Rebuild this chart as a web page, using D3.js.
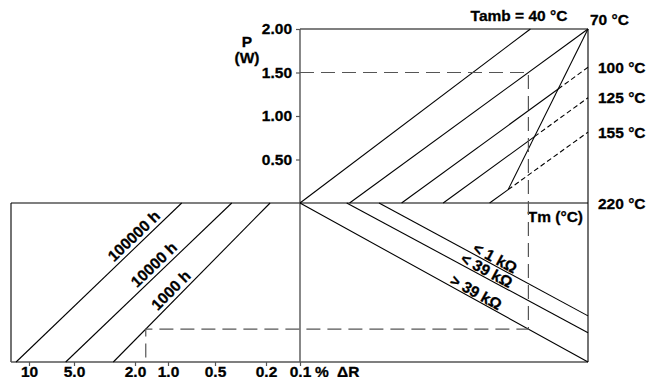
<!DOCTYPE html>
<html>
<head>
<script src="https://d3js.org/d3.v7.min.js"></script>
<style>
  body { margin: 0; background: #fff; }
  text { font-family: "Liberation Sans", Arial, sans-serif; font-weight: bold; font-size: 15.5px; fill: #000; stroke: #000; stroke-width: 0.3px; }
</style>
</head>
<body>
<div id="target"></div>
<script>
// power axis (W)
var powerTicks = [0.5, 1.0, 1.5, 2.0];
// ambient temperature lines: Tm at P = 0, and end point (Tm, P) of each line
var tambNames = ["Tamb = 40 °C", "70 °C", "100 °C", "125 °C", "155 °C"];
var tambStart = [40, 71, 103.5, 129.5, 158.5];
var tambEndTm = [184, 220, 220, 220, 220];
var tambEndP = [2.0, 2.0, 1.56, 1.21, 0.815];
// max film temperature limit line (Tm, P)
var limitTm = [220, 170];
var limitP = [2.0, 0.15];
// resistance lines, lower right part (Tm at start, relative level at Tm = 220)
var resNames = ["< 1 kΩ", "< 39 kΩ", "> 39 kΩ"];
var resStart = [89.4, 69.2, 40];
var resEnd = [0.71, 0.816, 1.0];
// load life lines, lower left part (ΔR % at top and at bottom)
var lifeNames = ["100000 h", "10000 h", "1000 h"];
var lifeTop = [0.817, 0.37, 0.184];
var lifeBottom = [12.2, 5.68, 2.77];
// drift axis
var driftTicks = [10, 5, 2, 1, 0.5, 0.2, 0.1];
var driftLabels = ["10", "5.0", "2.0", "1.0", "0.5", "0.2", "0.1"];
// worked example: 1.5 W at 70 °C, > 39 kOhm, 1000 h
var exampleP = 1.5, exampleTamb = 1, exampleRes = 2, exampleLife = 2;

var xLeft = 11, xMid = 300, xRight = 588, yTop = 29, yCenter = 203, yBottom = 362;

var svg = d3.select('#target').append('svg')
    .attr('width', 660)
    .attr('height', 377);

var y = d3.scaleLinear().domain([0, 2]).range([yCenter, yTop]);
var x = d3.scaleLinear().domain([40, 220]).range([xMid, xRight]);
var v = d3.scaleLinear().domain([0, 1]).range([yCenter, yBottom]);
var xd = d3.scaleLog().domain(driftTicks).range([29, 74, 135, 168, 215, 266, 300]);

function seg(a, b) {
    return svg.append('line')
        .attr('x1', a[0]).attr('y1', a[1])
        .attr('x2', b[0]).attr('y2', b[1])
        .attr('stroke', '#000')
        .attr('stroke-width', 1.1);
}

// where line a-b meets line c-d; t is along a-b
function cross(a, b, c, d) {
    var r = [b[0] - a[0], b[1] - a[1]], s = [d[0] - c[0], d[1] - c[1]];
    var den = r[0] * s[1] - r[1] * s[0];
    var t = ((c[0] - a[0]) * s[1] - (c[1] - a[1]) * s[0]) / den;
    return {t: t, p: [a[0] + t * r[0], a[1] + t * r[1]]};
}

// frame
seg([xMid, yTop], [xRight, yTop]);
seg([xLeft, yCenter], [xRight, yCenter]);
seg([xLeft, yCenter], [xLeft, yBottom]);
seg([xRight, yTop], [xRight, yBottom]);
seg([xLeft, yBottom], [xRight, yBottom]).attr('stroke', '#555').attr('stroke-width', 1.6);
seg([xMid, yTop], [xMid, yBottom]).attr('stroke', '#555').attr('stroke-width', 1.4);

// power axis
var yAxis = svg.append('g')
    .attr('transform', 'translate(' + xMid + ',0)')
    .call(d3.axisLeft(y).tickValues(powerTicks).tickFormat(d3.format('.2f')).tickSize(4).tickPadding(4));
yAxis.select('.domain').remove();
yAxis.selectAll('line').attr('stroke', '#555').attr('stroke-width', 1.2);
yAxis.attr('font-size', null).attr('font-family', null);

svg.append('text').attr('x', 247).attr('y', 47).attr('text-anchor', 'middle').text('P');
svg.append('text').attr('x', 247).attr('y', 63).attr('text-anchor', 'middle').text('(W)');

// drift axis
var xAxis = svg.append('g')
    .attr('transform', 'translate(0,' + yBottom + ')')
    .call(d3.axisBottom(xd).tickValues(driftTicks).tickFormat(function(d, i) { return driftLabels[i]; }).tickSize(4).tickPadding(0));
xAxis.select('.domain').remove();
xAxis.selectAll('line').attr('stroke', '#555').attr('stroke-width', 1.2);
xAxis.attr('font-size', null).attr('font-family', null);
svg.append('text').attr('x', xd(0.1) + 15).attr('y', yBottom + 15).text('%');
svg.append('text').attr('x', xd(0.1) + 37).attr('y', yBottom + 15).text('ΔR');

// limit line, drawn down to the hottest ambient line
var L0 = [x(limitTm[0]), y(limitP[0])], L1 = [x(limitTm[1]), y(limitP[1])];
var last = tambStart.length - 1;
var limitEnd = cross(L0, L1, [x(tambStart[last]), y(0)], [x(tambEndTm[last]), y(tambEndP[last])]).p;
seg(L0, limitEnd);

// ambient temperature lines
tambStart.forEach(function(s, i) {
    var A = [x(s), y(0)], B = [x(tambEndTm[i]), y(tambEndP[i])];
    var c = cross(A, B, L0, L1);
    if (c.t > 0.01 && c.t < 0.99) {
        seg(A, c.p);
        seg(c.p, B).attr('stroke-dasharray', '5,3');
    } else {
        seg(A, B);
    }
    var t = svg.append('text').text(tambNames[i]);
    if (i === 0) {
        t.attr('x', B[0] + 37).attr('y', yTop - 8).attr('text-anchor', 'end');
    } else if (tambEndP[i] >= 2) {
        t.attr('x', xRight + 2).attr('y', yTop - 4);
    } else {
        t.attr('x', xRight + 10).attr('y', B[1] + 5.5);
    }
});
svg.append('text').attr('x', xRight + 10).attr('y', y(0) + 5.5).text(x.domain()[1] + ' °C');
svg.append('text').attr('x', xRight - 5).attr('y', yCenter + 19).attr('text-anchor', 'end').text('Tm (°C)');

// resistance lines
var resLabelT = [0.54, 0.567, 0.6];
var resLines = resStart.map(function(s, i) {
    var A = [x(s), v(0)], B = [x(220), v(resEnd[i])];
    seg(A, B);
    var ang = Math.atan2(B[1] - A[1], B[0] - A[0]) * 180 / Math.PI;
    var px = A[0] + resLabelT[i] * (B[0] - A[0]), py = A[1] + resLabelT[i] * (B[1] - A[1]);
    svg.append('text')
        .attr('text-anchor', 'middle')
        .attr('transform', 'translate(' + px + ',' + py + ')rotate(' + ang + ')')
        .attr('dy', -1.5)
        .text(resNames[i]);
    return [A, B];
});

// load life lines
var lifeLabelT = [0.75, 0.57, 0.41];
var lifeLines = lifeTop.map(function(d, i) {
    var A = [xd(lifeBottom[i]), v(1)], B = [xd(d), v(0)];
    seg(A, B);
    var ang = Math.atan2(B[1] - A[1], B[0] - A[0]) * 180 / Math.PI;
    var px = A[0] + lifeLabelT[i] * (B[0] - A[0]), py = A[1] + lifeLabelT[i] * (B[1] - A[1]);
    svg.append('text')
        .attr('text-anchor', 'middle')
        .attr('transform', 'translate(' + px + ',' + py + ')rotate(' + ang + ')')
        .attr('dy', -4)
        .text(lifeNames[i]);
    return [A, B];
});

// worked example path
var tA = [x(tambStart[exampleTamb]), y(0)], tB = [x(tambEndTm[exampleTamb]), y(tambEndP[exampleTamb])];
var yE = y(exampleP);
var xE = tA[0] + (yE - tA[1]) / (tB[1] - tA[1]) * (tB[0] - tA[0]);
var r = resLines[exampleRes];
var yR = r[0][1] + (xE - r[0][0]) / (r[1][0] - r[0][0]) * (r[1][1] - r[0][1]);
var l = lifeLines[exampleLife];
var xL = l[0][0] + (yR - l[0][1]) / (l[1][1] - l[0][1]) * (l[1][0] - l[0][0]);
svg.append('path')
    .attr('d', d3.line()([[xMid, yE], [xE, yE], [xE, yR], [xL, yR], [xL, yBottom]]))
    .attr('fill', 'none')
    .attr('stroke', '#555')
    .attr('stroke-width', 1.2)
    .attr('stroke-dasharray', '14,7');
</script>
</body>
</html>
